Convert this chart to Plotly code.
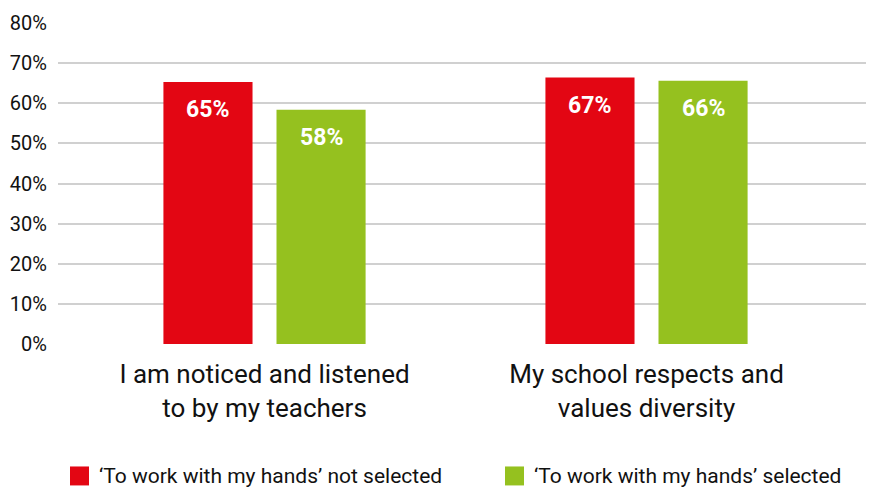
import plotly.graph_objects as go

categories = ["I am noticed and listened<br>to by my teachers",
              "My school respects and<br>values diversity"]
series_names = ["\u2018To work with my hands\u2019 not selected",
                "\u2018To work with my hands\u2019 selected"]
not_selected = [65.3, 66.4]
selected = [58.4, 65.6]
not_selected_labels = ["65%", "67%"]
selected_labels = ["58%", "66%"]
y_ticks = [0, 10, 20, 30, 40, 50, 60, 70, 80]
y_tick_labels = ["0%", "10%", "20%", "30%", "40%", "50%", "60%", "70%", "80%"]

RED = "#E30613"
GREEN = "#95C11F"
FONT = "Roboto"

BARGAP = 0.408
BARGROUPGAP = 0.212

fig = go.Figure()
fig.add_trace(go.Bar(x=categories, y=not_selected, name=series_names[0],
                     marker=dict(color=RED, line=dict(width=0)), showlegend=False))
fig.add_trace(go.Bar(x=categories, y=selected, name=series_names[1],
                     marker=dict(color=GREEN, line=dict(width=0)), showlegend=False))

annotations = []
half = (1 - BARGAP) / 4.0
for i in range(len(categories)):
    for off, val, lab in ((-half, not_selected[i], not_selected_labels[i]),
                          (half, selected[i], selected_labels[i])):
        annotations.append(dict(x=i + off, y=val, xref="x", yref="y", text="<b>" + lab + "</b>",
                                showarrow=False, yanchor="top", yshift=-12,
                                font=dict(family=FONT, size=23, color="white")))

# manual legend
legend_colors = [RED, GREEN]
legend_x0 = [12 / 816, 447 / 816]
sq_w = 19 / 816
sq_y0 = -(467 - 344.3) / 321.6
sq_y1 = -(486 - 344.3) / 321.6
shapes = []
for name, col, x0 in zip(series_names, legend_colors, legend_x0):
    shapes.append(dict(type="rect", xref="paper", yref="paper", x0=x0, x1=x0 + sq_w,
                       y0=sq_y1, y1=sq_y0, fillcolor=col, line=dict(width=0)))
    annotations.append(dict(x=x0 + sq_w + 8 / 816, y=(sq_y0 + sq_y1) / 2, xref="paper", yref="paper",
                            text=name, showarrow=False, xanchor="left", yanchor="middle",
                            font=dict(family=FONT, size=21, color="#111111")))

fig.update_layout(
    width=866, height=481,
    margin=dict(l=50, r=0, t=14.7, b=144.7, autoexpand=False),
    paper_bgcolor="white", plot_bgcolor="white",
    barmode="group", bargap=BARGAP, bargroupgap=BARGROUPGAP,
    font=dict(family=FONT, color="#111111"),
    annotations=annotations, shapes=shapes,
    showlegend=False,
)
fig.update_xaxes(range=[-0.5406, 1.5955], showgrid=False, showline=False, ticks="",
                 ticklabelstandoff=12,
                 tickfont=dict(family=FONT, size=26, color="#111111"), automargin=False)
fig.update_yaxes(range=[0, 80], tickvals=y_ticks, ticktext=y_tick_labels,
                 showgrid=True, gridcolor="#d0d0d0", gridwidth=1.5, zeroline=False,
                 showline=False, ticks="", ticklabelstandoff=10, automargin=False,
                 tickfont=dict(family=FONT, size=20, color="#111111"))

fig.write_html("out.html")
